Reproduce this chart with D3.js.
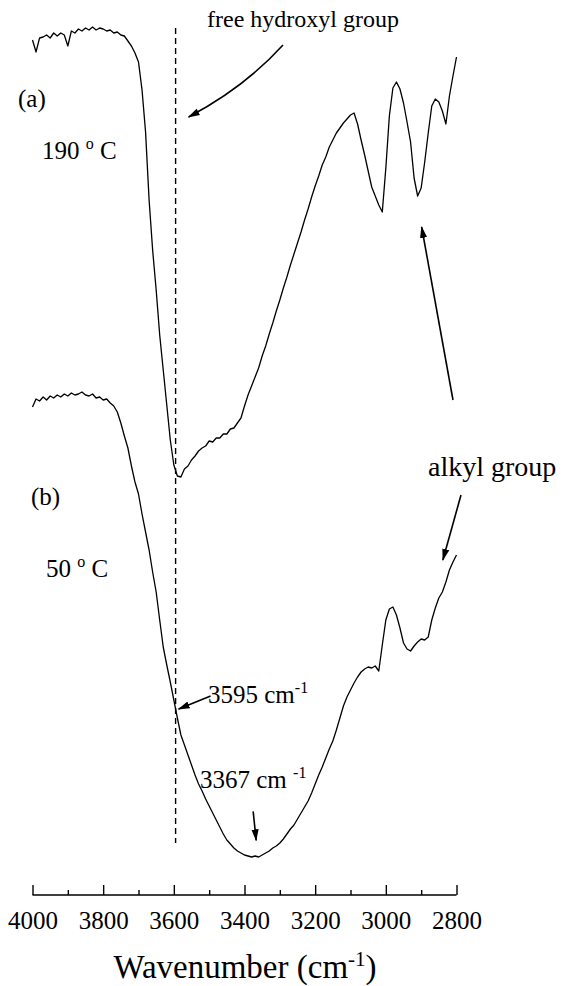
<!DOCTYPE html>
<html>
<head>
<meta charset="utf-8">
<script src="https://cdn.jsdelivr.net/npm/d3@7"></script>
<style>
  html, body { margin: 0; padding: 0; background: #fff; }
  svg { display: block; }
  text { font-family: "Liberation Serif", "Times New Roman", serif; fill: #000; }
</style>
</head>
<body>
<svg id="chart" width="568" height="986"></svg>
<script>
// FTIR spectra (transmittance, arbitrary units) recorded every 10 cm-1 from 4000 to 2800 cm-1
const wavenumbers = d3.range(4000, 2799, -10);

// (a) sample held at 190 °C
const spectrum190 = [
  86.0, 84.8, 86.2, 86.3, 86.5, 86.2, 86.7, 86.4, 86.7, 86.5,
  85.4, 86.9, 86.7, 87.1, 86.9, 87.2, 87.0, 87.3, 87.0, 87.2,
  87.1, 86.9, 87.0, 86.7, 86.8, 86.5, 86.4, 85.9, 85.4, 84.7,
  83.8, 81.0, 76.8, 70.0, 65.0, 61.0, 56.5, 53.0, 49.5, 46.0,
  43.5, 42.4, 42.3, 43.1, 43.4, 44.0, 44.4, 44.9, 45.2, 45.4,
  45.9, 45.8, 46.2, 46.2, 46.6, 46.6, 47.1, 47.2, 47.7, 48.2,
  49.4, 50.5, 51.4, 52.3, 53.2, 54.4, 55.4, 56.6, 57.7, 58.9,
  60.0, 61.2, 62.3, 63.5, 64.6, 65.7, 66.8, 68.0, 69.1, 70.3,
  71.4, 72.4, 73.5, 74.3, 75.3, 76.0, 76.7, 77.2, 77.7, 78.1,
  78.5, 78.7, 77.6, 76.0, 74.5, 72.9, 71.3, 70.4, 69.5, 68.8,
  73.2, 78.4, 81.2, 81.8, 81.1, 79.7, 77.8, 75.8, 72.2, 70.4,
  71.2, 73.8, 76.7, 79.4, 80.1, 79.8, 78.9, 77.6, 80.4, 82.4,
  84.3
];

// (b) sample held at 50 °C
const spectrum50 = [
  49.3, 50.1, 49.9, 50.3, 50.0, 50.4, 50.2, 50.5, 50.3, 50.6,
  50.4, 50.7, 50.5, 50.6, 50.8, 50.5, 50.4, 50.6, 50.2, 50.3,
  50.0, 50.1, 49.7, 49.4, 48.8, 47.7, 46.4, 45.2, 43.4, 41.8,
  40.6, 38.6, 36.8, 35.0, 32.8, 30.8, 28.0, 25.3, 23.5, 21.8,
  20.0, 18.2, 16.5, 15.5, 14.5, 13.5, 12.5, 11.6, 10.9, 10.1,
  9.4, 8.7, 8.0, 7.3, 6.6, 6.0, 5.6, 5.2, 4.9, 4.7,
  4.5, 4.4, 4.3, 4.4, 4.3, 4.5, 4.7, 4.9, 5.2, 5.4,
  5.7, 6.1, 6.6, 7.1, 7.5, 8.1, 8.7, 9.3, 9.9, 10.7,
  11.6, 12.5, 13.3, 14.2, 15.1, 15.9, 17.0, 18.2, 19.4, 20.3,
  21.0, 21.7, 22.3, 22.8, 23.1, 23.3, 23.2, 23.4, 22.9, 25.5,
  28.0, 29.1, 29.3, 28.5, 27.2, 25.7, 25.1, 24.9, 25.4, 25.8,
  26.1, 26.0, 26.3, 28.0, 29.2, 30.2, 30.8, 31.8, 33.0, 33.8,
  34.5
];

// axis ticks
const majorTicks = [4000, 3800, 3600, 3400, 3200, 3000, 2800];
const minorTicks = [3900, 3700, 3500, 3300, 3100, 2900];
const tickLabels = ["4000", "3800", "3600", "3400", "3200", "3000", "2800"];

// marked bands
const freeHydroxylBand = 3595;   // dashed marker line
const broadBandMinimum = 3367;   // minimum of the broad OH band at 50 °C
const alkylBandA = 2910;         // alkyl band pointed at on spectrum (a)
const alkylBandB = 2840;         // alkyl band pointed at on spectrum (b)

const svg = d3.select("#chart");

const x = d3.scaleLinear().domain([4000, 2800]).range([32.5, 456.5]);
const y = d3.scaleLinear().domain([0, 90]).range([900, 0]);
const axisY = 895;

const valueAt = (series, wn) => {
  const i = wavenumbers.findIndex(w => w <= wn);
  if (wavenumbers[i] === wn || i <= 0) return series[Math.max(i, 0)];
  const w0 = wavenumbers[i - 1], w1 = wavenumbers[i];
  const t = (w0 - wn) / (w0 - w1);
  return series[i - 1] + t * (series[i] - series[i - 1]);
};

// arrowhead
svg.append("defs").append("marker")
  .attr("id", "head")
  .attr("markerUnits", "userSpaceOnUse")
  .attr("viewBox", "0 -4 12 8")
  .attr("refX", 11).attr("refY", 0)
  .attr("markerWidth", 12).attr("markerHeight", 8)
  .attr("orient", "auto")
  .append("path").attr("d", "M0,-3.6L12,0L0,3.6Z").attr("fill", "#000");

// spectra
const line = d3.line()
  .x((d, i) => x(wavenumbers[i]))
  .y(d => y(d));

[spectrum190, spectrum50].forEach(s => {
  svg.append("path")
    .datum(s)
    .attr("d", line)
    .attr("fill", "none")
    .attr("stroke", "#000")
    .attr("stroke-width", 1.3)
    .attr("stroke-linejoin", "round");
});

// dashed free-hydroxyl marker
svg.append("line")
  .attr("x1", x(freeHydroxylBand)).attr("x2", x(freeHydroxylBand))
  .attr("y1", 28).attr("y2", 843)
  .attr("stroke", "#000")
  .attr("stroke-width", 1.4)
  .attr("stroke-dasharray", "6,4");

// bottom axis with inward ticks
const axisG = svg.append("g").attr("transform", `translate(0,${axisY})`);
axisG.append("g")
  .call(d3.axisBottom(x).tickValues(majorTicks).tickSize(-10)
    .tickFormat((d, i) => tickLabels[i]).tickPadding(0))
  .call(g => g.select(".domain").remove())
  .call(g => g.selectAll("line").attr("stroke", "#000").attr("stroke-width", 1.4))
  .call(g => g.selectAll("text")
    .attr("y", 34).attr("dy", null)
    .style("font-family", '"Liberation Serif", "Times New Roman", serif')
    .style("font-size", "25px").attr("fill", "#000"));
axisG.append("g")
  .call(d3.axisBottom(x).tickValues(minorTicks).tickSize(-5).tickFormat(""))
  .call(g => g.select(".domain").remove())
  .call(g => g.selectAll("line").attr("stroke", "#000").attr("stroke-width", 1.4));
axisG.append("line")
  .attr("x1", x(4000)).attr("x2", x(2800))
  .attr("stroke", "#000").attr("stroke-width", 1.6);

// axis title
const title = svg.append("text")
  .attr("x", 245).attr("y", 978)
  .attr("text-anchor", "middle")
  .style("font-size", "33px");
title.append("tspan").text("Wavenumber (cm");
title.append("tspan").attr("dy", -12).style("font-size", "21px").text("-1");
title.append("tspan").attr("dy", 12).text(")");

// spectrum labels
const label = (tx, ty, size, parts) => {
  const t = svg.append("text").attr("x", tx).attr("y", ty).style("font-size", size + "px");
  parts.forEach(p => {
    const s = t.append("tspan").text(p.text);
    if (p.dy) s.attr("dy", p.dy);
    if (p.size) s.style("font-size", p.size + "px");
  });
  return t;
};

label(18, 107, 25, [{ text: "(a)" }]);
label(42, 159, 25, [{ text: "190 " }, { text: "o", dy: -10, size: 16 }, { text: " C", dy: 10 }]);
label(31, 505, 25, [{ text: "(b)" }]);
label(46, 577, 25, [{ text: "50 " }, { text: "o", dy: -10, size: 16 }, { text: " C", dy: 10 }]);

label(207, 27, 24, [{ text: "free hydroxyl group" }]);
label(428, 476, 28, [{ text: "alkyl group" }]);
label(208, 703, 25, [{ text: "3595 cm" }, { text: "-1", dy: -10, size: 16 }]);
label(200, 788, 25, [{ text: "3367 cm " }, { text: "-1", dy: -10, size: 16 }]);

// annotation arrows
const arrow = (d) => svg.append("path")
  .attr("d", d)
  .attr("fill", "none")
  .attr("stroke", "#000")
  .attr("stroke-width", 1.6)
  .attr("marker-end", "url(#head)");

// free hydroxyl group -> dashed marker
const hx = x(freeHydroxylBand) + 13;
arrow(`M283,45Q245,87 ${hx},117`);

// 3595 cm-1 -> crossing of spectrum (b) with the marker
const p1x = x(freeHydroxylBand) + 3, p1y = y(valueAt(spectrum50, freeHydroxylBand));
arrow(`M${p1x + 32},${p1y - 13}L${p1x},${p1y}`);

// 3367 cm-1 -> band minimum
const p2x = x(broadBandMinimum), p2y = y(valueAt(spectrum50, broadBandMinimum)) - 16;
arrow(`M${p2x - 3},${p2y - 29}L${p2x},${p2y}`);

// alkyl group -> C-H bands on both spectra
const a1x = x(alkylBandA) + 4, a1y = y(valueAt(spectrum190, alkylBandA)) + 31;
arrow(`M453,400L${a1x},${a1y}`);
const a2x = x(alkylBandB) + 0.5, a2y = y(valueAt(spectrum50, alkylBandB)) - 32;
arrow(`M461,495L${a2x},${a2y}`);
</script>
</body>
</html>
